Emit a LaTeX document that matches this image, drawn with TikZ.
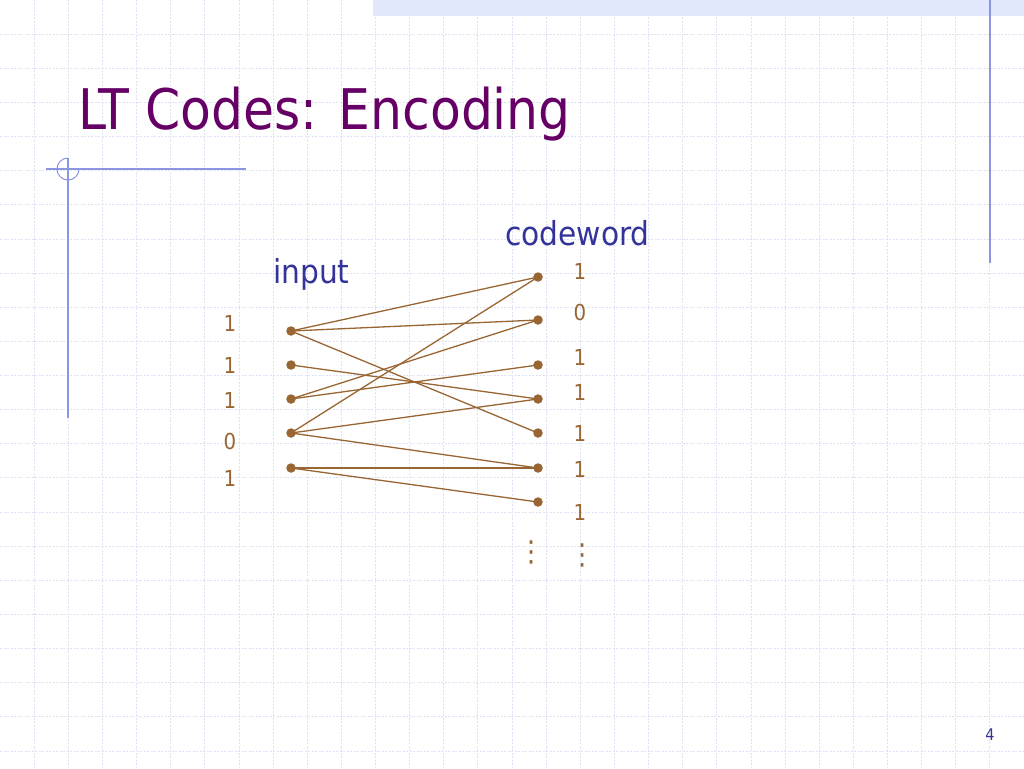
\documentclass[tikz,border=0pt]{standalone}
\usepackage{fontspec}
\setmainfont{DejaVu Sans Condensed}
\usepackage{xcolor}
\usepackage{tikz}
\definecolor{Title}{HTML}{660066}
\definecolor{Label}{HTML}{333399}
\definecolor{Bit}{HTML}{996633}
\definecolor{Rule}{HTML}{8C96E0}
\definecolor{Grid}{HTML}{DDE2F4}
\definecolor{Band}{HTML}{E1E8FC}
\tikzset{
  gridline/.style={draw=Grid, line width=0.8pt, dash pattern=on 2pt off 1.5pt},
  rule/.style={draw=Rule, line width=1.2pt},
  dot/.style={circle, fill=Bit, inner sep=0pt, minimum size=9.5pt},
  bit/.style={text=Bit, font=\fontsize{22}{24}\selectfont},
  more/.style={text=Bit, font=\fontsize{29}{29}\selectfont, inner sep=0pt},
  heading/.style={text=Label, font=\fontsize{33}{36}\selectfont, inner sep=0pt, anchor=base west},
  edge/.style={draw=Bit, line width=1.3pt},
}

\begin{document}
\begin{tikzpicture}[x=1pt, y=-1pt]%
\useasboundingbox (0,0) rectangle (1024,768);%
\fill[white] (0,0) rectangle (1024,768);%
% background grid
\foreach \i in {1,...,29} \draw[gridline] (\i*34.133,0) -- (\i*34.133,768);%
\foreach \j in {1,...,22} \draw[gridline] (0,\j*34.133) -- (1024,\j*34.133);%
\fill[Band] (373,0) rectangle (1024,16);%
% slide rules
\draw[rule] (990,0) -- (990,263);%
\draw[rule] (68,158) -- (68,418);%
\draw[rule] (46,169) -- (246,169);%
\draw[draw=Rule, line width=1pt] (68,158) arc[start angle=-90, end angle=-360, radius=11];%
% title
\node[text=Title, font=\fontsize{56}{60}\selectfont, inner sep=0pt, anchor=base west] (title) at (78,129) {LT Codes: Encoding};%
\node[heading] (input) at (273,283) {input};%
\node[heading] (codeword) at (505,245) {codeword};%
% input symbols
\foreach \n/\y/\b/\ty in {1/331/1/323, 2/365/1/365, 3/399/1/400, 4/433/0/441, 5/468/1/478}{%
  \node[dot] (in\n) at (291,\y) {};%
  \node[bit] (inbit\n) at (230,\ty) {\b};%
}%
% encoded symbols
\foreach \n/\y/\b/\ty in {1/277/1/271, 2/320/0/312, 3/365/1/357, 4/399/1/392, 5/433/1/433, 6/468/1/469, 7/502/1/512}{%
  \node[dot] (out\n) at (538,\y) {};%
  \node[bit] (outbit\n) at (580,\ty) {\b};%
}%
\node[more] (moreout) at (532,552) {⋮};%
\node[more] (morebit) at (583,555) {⋮};%
% edges
\foreach \a/\c in {1/1, 1/2, 1/5, 2/4, 3/2, 3/3, 4/1, 4/4, 4/6, 5/6, 5/7}
  \draw[edge] (in\a.center) -- (out\c.center);%
\node[text=Label, font=\fontsize{16}{18}\selectfont] (page) at (990,735) {4};%
\end{tikzpicture}
\end{document}
